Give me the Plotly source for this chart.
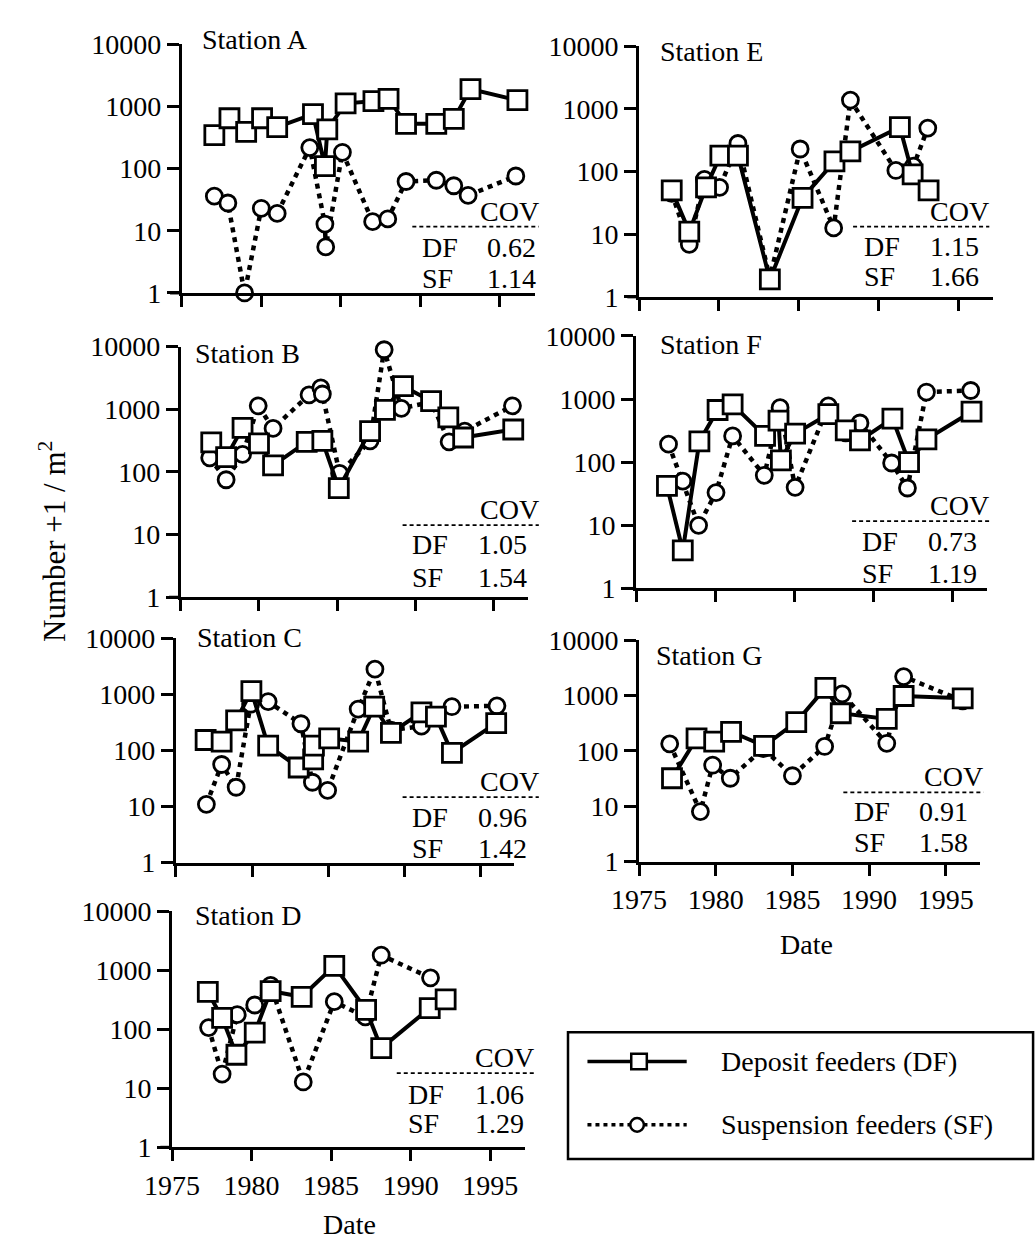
import plotly.graph_objects as go

W, H = 1036, 1254
FONT = "Liberation Serif"

STATIONS = ["A", "B", "C", "D", "E", "F", "G"]

A_DF_YEAR = [1977.05, 1978.0, 1979.05, 1980.05, 1981.0, 1983.25, 1984.0, 1984.15, 1985.3, 1987.05, 1988.0, 1989.1, 1991.0, 1992.1, 1993.15, 1996.1]
A_DF = [345, 645, 390, 645, 465, 750, 110, 427, 1120, 1215, 1320, 525, 525, 630, 1900, 1260]
A_SF_YEAR = [1977.05, 1977.9, 1978.95, 1980.0, 1981.0, 1983.05, 1984.0, 1984.05, 1985.1, 1987.0, 1987.95, 1989.1, 1991.0, 1992.1, 1993.0, 1996.0]
A_SF = [36, 28, 1, 23, 19, 218, 12.8, 5.5, 183, 14, 15.5, 62, 65, 53, 37, 76]

B_DF_YEAR = [1976.95, 1977.9, 1978.95, 1980.0, 1980.9, 1983.05, 1984.05, 1985.1, 1987.1, 1988.05, 1989.2, 1991.0, 1992.1, 1993.05, 1996.25]
B_DF = [295, 172, 505, 285, 127, 302, 312, 55, 448, 975, 2340, 1350, 740, 354, 475]
B_SF_YEAR = [1976.85, 1977.9, 1978.95, 1979.95, 1980.9, 1983.2, 1983.95, 1984.05, 1985.15, 1987.1, 1988.0, 1989.1, 1991.0, 1992.15, 1993.15, 1996.2]
B_SF = [168, 75, 190, 1135, 495, 1700, 2200, 1750, 95, 313, 8900, 1035, 1300, 302, 448, 1135]

C_DF_YEAR = [1976.95, 1978.0, 1978.95, 1979.95, 1981.05, 1983.05, 1984.0, 1984.05, 1985.05, 1986.95, 1988.0, 1989.1, 1991.1, 1992.05, 1993.1, 1996.0]
C_DF = [153, 143, 342, 1137, 121, 49.5, 69, 121, 164, 143, 600, 205, 477, 400, 90, 307]
C_SF_YEAR = [1977.0, 1978.0, 1978.95, 1979.9, 1981.05, 1983.2, 1983.95, 1984.95, 1986.95, 1988.05, 1989.1, 1991.1, 1993.1, 1996.05]
C_SF = [10.9, 56, 22, 665, 740, 298, 27, 19.4, 545, 2800, 230, 270, 600, 623]

D_DF_YEAR = [1977.25, 1978.15, 1979.05, 1980.2, 1981.2, 1983.15, 1985.2, 1987.2, 1988.15, 1991.2, 1992.2]
D_DF = [430, 156, 37, 88, 445, 355, 1186, 214, 48, 228, 321]
D_SF_YEAR = [1977.3, 1978.15, 1979.1, 1980.2, 1981.2, 1983.25, 1985.2, 1987.15, 1988.15, 1991.25]
D_SF = [107, 17.4, 177, 258, 555, 12.8, 294, 162, 1800, 745]

E_DF_YEAR = [1977.05, 1978.15, 1979.2, 1980.1, 1981.2, 1983.2, 1985.25, 1987.25, 1988.25, 1991.35, 1992.15, 1993.15]
E_DF = [50, 11, 56, 180, 180, 1.9, 38, 145, 209, 510, 90, 50]
E_SF_YEAR = [1977.05, 1978.15, 1979.1, 1980.05, 1981.2, 1983.2, 1985.1, 1987.2, 1988.25, 1991.1, 1992.2, 1993.1]
E_SF = [45, 6.9, 75, 56, 280, 2, 229, 12.6, 1380, 104, 122, 494]

F_DF_YEAR = [1976.95, 1977.95, 1979.0, 1980.15, 1981.1, 1983.15, 1984.0, 1984.15, 1985.05, 1987.15, 1988.25, 1989.15, 1991.2, 1992.25, 1993.35, 1996.2]
F_DF = [42, 4, 213, 670, 820, 260, 455, 107, 283, 575, 318, 222, 490, 100, 230, 630]
F_SF_YEAR = [1977.05, 1977.95, 1978.95, 1980.05, 1981.1, 1983.1, 1984.1, 1985.05, 1987.15, 1988.25, 1989.15, 1991.15, 1992.15, 1993.35, 1996.15]
F_SF = [193, 50, 10, 33, 260, 62, 730, 40, 780, 290, 417, 97, 39, 1290, 1365]

G_DF_YEAR = [1977.15, 1978.75, 1979.9, 1981.0, 1983.15, 1985.25, 1987.15, 1988.15, 1991.15, 1992.25, 1996.1]
G_DF = [32, 168, 147, 221, 123, 331, 1370, 478, 378, 980, 890]
G_SF_YEAR = [1977.0, 1979.0, 1979.8, 1980.95, 1983.1, 1985.0, 1987.1, 1988.25, 1991.15, 1992.25, 1996.1]
G_SF = [134, 8, 55, 32, 110, 35.5, 120, 1070, 137, 2200, 800]

COV_DF = {"A": "0.62", "B": "1.05", "C": "0.96", "D": "1.06", "E": "1.15", "F": "0.73", "G": "0.91"}
COV_SF = {"A": "1.14", "B": "1.54", "C": "1.42", "D": "1.29", "E": "1.66", "F": "1.19", "G": "1.58"}

Y_TICKS = [1, 10, 100, 1000, 10000]
Y_TICK_TEXT = ["1", "10", "100", "1000", "10000"]
X_TICKS = [1975, 1980, 1985, 1990, 1995]
X_TICK_TEXT = ["1975", "1980", "1985", "1990", "1995"]

DATA = {
    "A": (A_DF_YEAR, A_DF, A_SF_YEAR, A_SF),
    "B": (B_DF_YEAR, B_DF, B_SF_YEAR, B_SF),
    "C": (C_DF_YEAR, C_DF, C_SF_YEAR, C_SF),
    "D": (D_DF_YEAR, D_DF, D_SF_YEAR, D_SF),
    "E": (E_DF_YEAR, E_DF, E_SF_YEAR, E_SF),
    "F": (F_DF_YEAR, F_DF, F_SF_YEAR, F_SF),
    "G": (G_DF_YEAR, G_DF, G_SF_YEAR, G_SF),
}

# panel layout in pixels: x0, x1, ytop, ybottom
PANELS = {
    "A": (158, 521, 30, 285),
    "B": (157, 514, 340, 597),
    "C": (152, 500, 639, 869),
    "D": (148, 511, 919, 1161),
    "E": (628, 992, 32, 289),
    "F": (625, 986, 329, 588),
    "G": (628, 978, 641, 868),
}
# COV block: line y, line x0, line x1, DF row y, SF row y, label left x, value right x
COVPOS = {
    "A": (217, 395, 525, 238, 270, 403, 524),
    "B": (523, 385, 525, 543, 577, 393, 515),
    "C": (802, 385, 525, 823, 855, 393, 515),
    "D": (1085, 379, 520, 1107, 1137, 388, 512),
    "E": (217, 848, 988, 237, 268, 857, 979),
    "F": (519, 847, 988, 540, 573, 855, 977),
    "G": (797, 838, 982, 817, 848, 847, 968),
}
TITLEPOS = {"A": (177, 25), "B": (170, 347), "C": (172, 638), "D": (170, 923),
            "E": (648, 37), "F": (647, 338), "G": (643, 657)}
LABELLED = {"D", "G"}


def px(x):
    return x / W


def py(y):
    return 1 - y / H


fig = go.Figure()
layout = {}
annotations = []
shapes = []
FS = 28

for i, s in enumerate(STATIONS):
    n = i + 1
    xa = "x" if n == 1 else f"x{n}"
    ya = "y" if n == 1 else f"y{n}"
    x0, x1, yt, yb = PANELS[s]
    dfx, dfy, sfx, sfy = DATA[s]
    fig.add_trace(go.Scatter(
        x=sfx, y=sfy, xaxis=xa, yaxis=ya, mode="lines+markers",
        line=dict(color="black", width=4.5, dash="5px,5px"),
        marker=dict(symbol="circle", size=16, color="white",
                    line=dict(color="black", width=2.8)),
        cliponaxis=False, showlegend=False))
    fig.add_trace(go.Scatter(
        x=dfx, y=dfy, xaxis=xa, yaxis=ya, mode="lines+markers",
        line=dict(color="black", width=4),
        marker=dict(symbol="square", size=19, color="white",
                    line=dict(color="black", width=2.8)),
        cliponaxis=False, showlegend=False))
    xaxis = dict(
        domain=[px(x0), px(x1)], anchor=ya, range=[1975, 1997.2],
        showgrid=False, zeroline=False, showline=True, linecolor="black", linewidth=3,
        ticks="outside", ticklen=11, tickwidth=2.5, tickcolor="black",
        tickvals=X_TICKS, showticklabels=s in LABELLED,
        tickfont=dict(family=FONT, size=FS, color="black"))
    if s in LABELLED:
        xaxis["ticktext"] = X_TICK_TEXT
    layout["xaxis" if n == 1 else f"xaxis{n}"] = xaxis
    layout["yaxis" if n == 1 else f"yaxis{n}"] = dict(
        domain=[py(yb), py(yt)], anchor=xa, type="log", range=[0, 4],
        showgrid=False, zeroline=False, showline=True, linecolor="black", linewidth=3,
        ticks="outside", ticklen=12, tickwidth=2.5, tickcolor="black",
        tickvals=Y_TICKS, ticktext=Y_TICK_TEXT,
        tickfont=dict(family=FONT, size=FS, color="black"))
    # x axis line extension to the left
    shapes.append(dict(type="line", xref="paper", yref="paper",
                       x0=px(x0 - 12), x1=px(x0), y0=py(yb), y1=py(yb),
                       line=dict(color="black", width=3)))
    # title
    tx, ty = TITLEPOS[s]
    annotations.append(dict(text=f"Station {s}", xref="paper", yref="paper",
                            x=px(tx), y=py(ty), xanchor="left", yanchor="middle",
                            showarrow=False, font=dict(family=FONT, size=FS, color="black")))
    # COV block
    ly, lx0, lx1, dfr, sfr, labx, valx = COVPOS[s]
    shapes.append(dict(type="line", xref="paper", yref="paper",
                       x0=px(lx0), x1=px(lx1), y0=py(ly), y1=py(ly),
                       line=dict(color="black", width=1.8, dash="4px,3px")))
    annotations.append(dict(text="COV", xref="paper", yref="paper",
                            x=px(lx1 + 2), y=py(ly + 2), xanchor="right", yanchor="bottom",
                            showarrow=False, font=dict(family=FONT, size=FS, color="black")))
    for lab, val, ry in (("DF", COV_DF[s], dfr), ("SF", COV_SF[s], sfr)):
        annotations.append(dict(text=lab, xref="paper", yref="paper",
                                x=px(labx), y=py(ry), xanchor="left", yanchor="middle",
                                showarrow=False, font=dict(family=FONT, size=FS, color="black")))
        annotations.append(dict(text=val, xref="paper", yref="paper",
                                x=px(valx), y=py(ry), xanchor="right", yanchor="middle",
                                showarrow=False, font=dict(family=FONT, size=FS, color="black")))

# axis titles
annotations.append(dict(text="Date", xref="paper", yref="paper", x=px(330), y=py(1240),
                        xanchor="center", yanchor="middle", showarrow=False,
                        font=dict(family=FONT, size=FS, color="black")))
annotations.append(dict(text="Date", xref="paper", yref="paper", x=px(800), y=py(953),
                        xanchor="center", yanchor="middle", showarrow=False,
                        font=dict(family=FONT, size=FS, color="black")))
annotations.append(dict(text="Number +1 / m<sup>2</sup>", xref="paper", yref="paper",
                        x=px(25), y=py(540), xanchor="center", yanchor="middle",
                        textangle=-90, showarrow=False,
                        font=dict(family=FONT, size=31, color="black")))

# legend (drawn manually)
shapes.append(dict(type="rect", xref="paper", yref="paper", x0=px(555), x1=px(1033),
                   y0=py(1173), y1=py(1043), line=dict(color="black", width=2.5)))
shapes.append(dict(type="line", xref="paper", yref="paper", x0=px(575), x1=px(677),
                   y0=py(1073), y1=py(1073), line=dict(color="black", width=3.5)))
shapes.append(dict(type="rect", xref="paper", yref="paper", x0=px(620), x1=px(636),
                   y0=py(1081), y1=py(1065), fillcolor="white",
                   line=dict(color="black", width=2.5)))
shapes.append(dict(type="line", xref="paper", yref="paper", x0=px(575), x1=px(677),
                   y0=py(1138), y1=py(1138), line=dict(color="black", width=3.5, dash="4px,4px")))
shapes.append(dict(type="circle", xref="paper", yref="paper", x0=px(619), x1=px(633),
                   y0=py(1145), y1=py(1131), fillcolor="white",
                   line=dict(color="black", width=2.5)))
annotations.append(dict(text="Deposit feeders (DF)", xref="paper", yref="paper",
                        x=px(710), y=py(1073), xanchor="left", yanchor="middle",
                        showarrow=False, font=dict(family=FONT, size=FS, color="black")))
annotations.append(dict(text="Suspension feeders (SF)", xref="paper", yref="paper",
                        x=px(710), y=py(1138), xanchor="left", yanchor="middle",
                        showarrow=False, font=dict(family=FONT, size=FS, color="black")))

fig.update_layout(**layout)
fig.update_layout(width=W, height=H, margin=dict(l=0, r=0, t=0, b=0),
                  paper_bgcolor="white", plot_bgcolor="white",
                  annotations=annotations, shapes=shapes, showlegend=False,
                  font=dict(family=FONT, color="black"))
fig.write_html("out.html")
